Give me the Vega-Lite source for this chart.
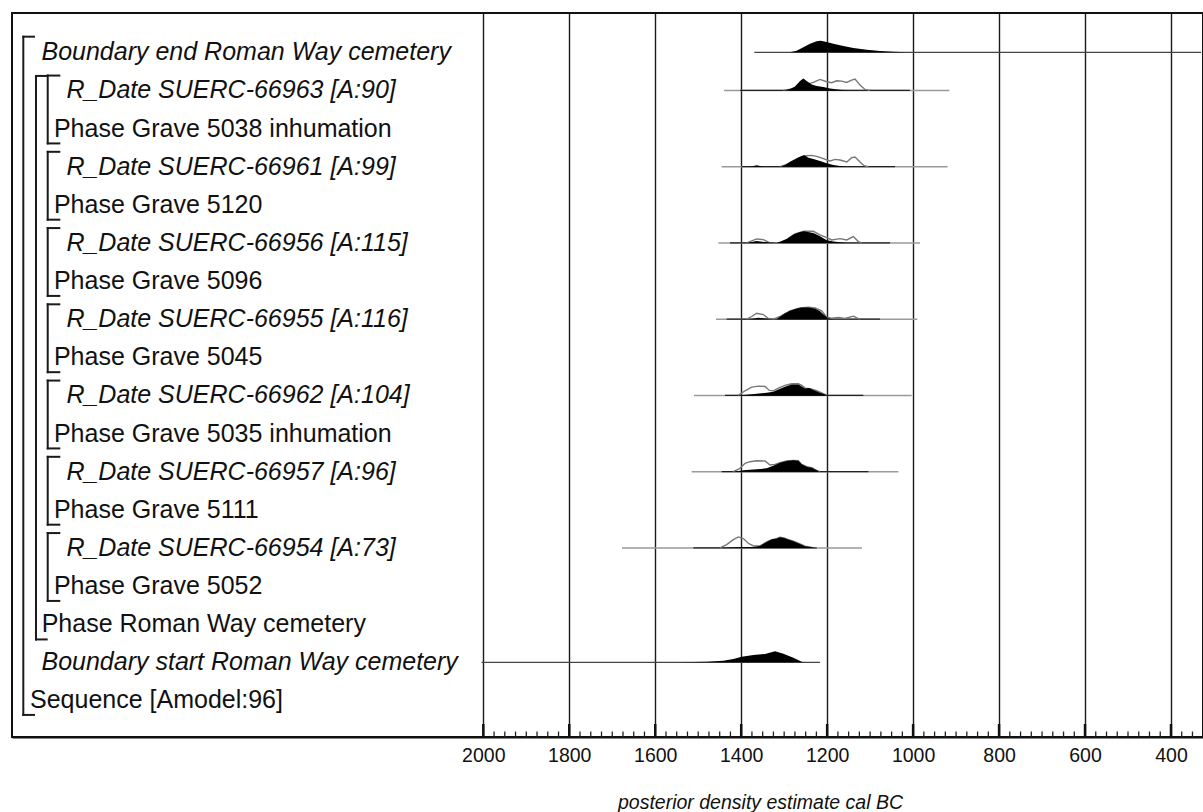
{
  "$schema": "https://vega.github.io/schema/vega-lite/v6.json",
  "width": 1191,
  "height": 724,
  "autosize": {"type": "none"},
  "padding": {"left": 12, "top": 13, "right": 0, "bottom": 75},
  "background": "white",
  "config": {
    "view": {"stroke": "#111", "strokeWidth": 2},
    "font": "Liberation Sans",
    "axis": {"ticks": false},
    "axisX": {
      "ticks": false, "grid": true, "gridColor": "#1a1a1a", "gridWidth": 1.4, "gridOpacity": 1,
      "domain": true, "domainColor": "#111", "domainWidth": 2,
      "labelFont": "Liberation Sans", "labelFontSize": 19.5, "labelColor": "#111", "labelPadding": 9,
      "titleFont": "Liberation Sans", "titleFontSize": 19.5, "titleFontStyle": "italic", "titleFontWeight": "normal",
      "titleColor": "#111"
    }
  },
  "datasets": {
    "major": [{"yr": 2000}, {"yr": 1800}, {"yr": 1600}, {"yr": 1400}, {"yr": 1200}, {"yr": 1000}, {"yr": 800}, {"yr": 600}, {"yr": 400}],
    "minor": [
      {"yr": 1975}, {"yr": 1950}, {"yr": 1925}, {"yr": 1900}, {"yr": 1875}, {"yr": 1850}, {"yr": 1825},
      {"yr": 1775}, {"yr": 1750}, {"yr": 1725}, {"yr": 1700}, {"yr": 1675}, {"yr": 1650}, {"yr": 1625},
      {"yr": 1575}, {"yr": 1550}, {"yr": 1525}, {"yr": 1500}, {"yr": 1475}, {"yr": 1450}, {"yr": 1425},
      {"yr": 1375}, {"yr": 1350}, {"yr": 1325}, {"yr": 1300}, {"yr": 1275}, {"yr": 1250}, {"yr": 1225},
      {"yr": 1175}, {"yr": 1150}, {"yr": 1125}, {"yr": 1100}, {"yr": 1075}, {"yr": 1050}, {"yr": 1025},
      {"yr": 975}, {"yr": 950}, {"yr": 925}, {"yr": 900}, {"yr": 875}, {"yr": 850}, {"yr": 825},
      {"yr": 775}, {"yr": 750}, {"yr": 725}, {"yr": 700}, {"yr": 675}, {"yr": 650}, {"yr": 625},
      {"yr": 575}, {"yr": 550}, {"yr": 525}, {"yr": 500}, {"yr": 475}, {"yr": 450}, {"yr": 425},
      {"yr": 375}, {"yr": 350}
    ],
    "labels": [
      {"row": 0, "yr": 3028, "style": "italic", "text": "Boundary end Roman Way cemetery"},
      {"row": 1, "yr": 2970, "style": "italic", "text": "R_Date SUERC-66963 [A:90]"},
      {"row": 2, "yr": 2999, "style": "normal", "text": "Phase Grave 5038 inhumation"},
      {"row": 3, "yr": 2970, "style": "italic", "text": "R_Date SUERC-66961 [A:99]"},
      {"row": 4, "yr": 2999, "style": "normal", "text": "Phase Grave 5120"},
      {"row": 5, "yr": 2970, "style": "italic", "text": "R_Date SUERC-66956 [A:115]"},
      {"row": 6, "yr": 2999, "style": "normal", "text": "Phase Grave 5096"},
      {"row": 7, "yr": 2970, "style": "italic", "text": "R_Date SUERC-66955 [A:116]"},
      {"row": 8, "yr": 2999, "style": "normal", "text": "Phase Grave 5045"},
      {"row": 9, "yr": 2970, "style": "italic", "text": "R_Date SUERC-66962 [A:104]"},
      {"row": 10, "yr": 2999, "style": "normal", "text": "Phase Grave 5035 inhumation"},
      {"row": 11, "yr": 2970, "style": "italic", "text": "R_Date SUERC-66957 [A:96]"},
      {"row": 12, "yr": 2999, "style": "normal", "text": "Phase Grave 5111"},
      {"row": 13, "yr": 2970, "style": "italic", "text": "R_Date SUERC-66954 [A:73]"},
      {"row": 14, "yr": 2999, "style": "normal", "text": "Phase Grave 5052"},
      {"row": 15, "yr": 3027.5, "style": "normal", "text": "Phase Roman Way cemetery"},
      {"row": 16, "yr": 3028, "style": "italic", "text": "Boundary start Roman Way cemetery"},
      {"row": 17, "yr": 3054.7, "style": "normal", "text": "Sequence [Amodel:96]"}
    ],
    "brackets": [
      {"yr": 3070.3, "yr2": 3070.3, "row": -0.41, "row2": 17.38},
      {"yr": 3070.3, "yr2": 3045.4, "row": -0.41, "row2": -0.41},
      {"yr": 3070.3, "yr2": 3045.4, "row": 17.38, "row2": 17.38},
      {"yr": 3040.8, "yr2": 3040.8, "row": 0.62, "row2": 15.4},
      {"yr": 3040.8, "yr2": 3015.9, "row": 0.62, "row2": 0.62},
      {"yr": 3040.8, "yr2": 3015.9, "row": 15.4, "row2": 15.4},
      {"yr": 3013.5, "yr2": 3013.5, "row": 0.61, "row2": 2.39},
      {"yr": 3013.5, "yr2": 2986.5, "row": 0.61, "row2": 0.61},
      {"yr": 3013.5, "yr2": 2986.5, "row": 2.39, "row2": 2.39},
      {"yr": 3013.5, "yr2": 3013.5, "row": 2.61, "row2": 4.39},
      {"yr": 3013.5, "yr2": 2986.5, "row": 2.61, "row2": 2.61},
      {"yr": 3013.5, "yr2": 2986.5, "row": 4.39, "row2": 4.39},
      {"yr": 3013.5, "yr2": 3013.5, "row": 4.61, "row2": 6.39},
      {"yr": 3013.5, "yr2": 2986.5, "row": 4.61, "row2": 4.61},
      {"yr": 3013.5, "yr2": 2986.5, "row": 6.39, "row2": 6.39},
      {"yr": 3013.5, "yr2": 3013.5, "row": 6.61, "row2": 8.39},
      {"yr": 3013.5, "yr2": 2986.5, "row": 6.61, "row2": 6.61},
      {"yr": 3013.5, "yr2": 2986.5, "row": 8.39, "row2": 8.39},
      {"yr": 3013.5, "yr2": 3013.5, "row": 8.61, "row2": 10.39},
      {"yr": 3013.5, "yr2": 2986.5, "row": 8.61, "row2": 8.61},
      {"yr": 3013.5, "yr2": 2986.5, "row": 10.39, "row2": 10.39},
      {"yr": 3013.5, "yr2": 3013.5, "row": 10.61, "row2": 12.39},
      {"yr": 3013.5, "yr2": 2986.5, "row": 10.61, "row2": 10.61},
      {"yr": 3013.5, "yr2": 2986.5, "row": 12.39, "row2": 12.39},
      {"yr": 3013.5, "yr2": 3013.5, "row": 12.61, "row2": 14.39},
      {"yr": 3013.5, "yr2": 2986.5, "row": 12.61, "row2": 12.61},
      {"yr": 3013.5, "yr2": 2986.5, "row": 14.39, "row2": 14.39}
    ],
    "ranges": [
      {"row": 0, "kind": "boundary", "yr": 1369.5, "yr2": 330},
      {"row": 16, "kind": "boundary", "yr": 2004, "yr2": 1216.5},
      {"row": 1, "kind": "likelihood", "yr": 1440, "yr2": 915.6},
      {"row": 3, "kind": "likelihood", "yr": 1445.4, "yr2": 919.5},
      {"row": 5, "kind": "likelihood", "yr": 1453.1, "yr2": 983.9},
      {"row": 7, "kind": "likelihood", "yr": 1458.5, "yr2": 990.1},
      {"row": 9, "kind": "likelihood", "yr": 1509.7, "yr2": 1003.3},
      {"row": 11, "kind": "likelihood", "yr": 1515.2, "yr2": 1034.3},
      {"row": 13, "kind": "likelihood", "yr": 1677.3, "yr2": 1119.0},
      {"row": 1, "kind": "posterior", "yr": 1402.7, "yr2": 1007.4},
      {"row": 3, "kind": "posterior", "yr": 1398.8, "yr2": 1042.0},
      {"row": 5, "kind": "posterior", "yr": 1426.0, "yr2": 1053.7},
      {"row": 7, "kind": "posterior", "yr": 1433.7, "yr2": 1077.0},
      {"row": 9, "kind": "posterior", "yr": 1437.6, "yr2": 1115.7},
      {"row": 11, "kind": "posterior", "yr": 1445.4, "yr2": 1104.1},
      {"row": 13, "kind": "posterior", "yr": 1511.3, "yr2": 1224.4}
    ],
    "fills": [
      {"s": "r0", "row": 0, "yr": 1286.4, "top": 0},
      {"s": "r0", "row": 0, "yr": 1270.9, "top": -0.044},
      {"s": "r0", "row": 0, "yr": 1255.4, "top": -0.131},
      {"s": "r0", "row": 0, "yr": 1239.9, "top": -0.227},
      {"s": "r0", "row": 0, "yr": 1224.3, "top": -0.288},
      {"s": "r0", "row": 0, "yr": 1215.0, "top": -0.306},
      {"s": "r0", "row": 0, "yr": 1201.1, "top": -0.271},
      {"s": "r0", "row": 0, "yr": 1185.6, "top": -0.227},
      {"s": "r0", "row": 0, "yr": 1162.3, "top": -0.166},
      {"s": "r0", "row": 0, "yr": 1139.0, "top": -0.114},
      {"s": "r0", "row": 0, "yr": 1108.0, "top": -0.070},
      {"s": "r0", "row": 0, "yr": 1077.0, "top": -0.035},
      {"s": "r0", "row": 0, "yr": 1046.0, "top": -0.017},
      {"s": "r0", "row": 0, "yr": 1014.9, "top": -0.004},
      {"s": "r0", "row": 0, "yr": 983.9, "top": 0},

      {"s": "r1", "row": 1, "yr": 1301.9, "top": 1},
      {"s": "r1", "row": 1, "yr": 1286.4, "top": 0.965},
      {"s": "r1", "row": 1, "yr": 1274.8, "top": 0.895},
      {"s": "r1", "row": 1, "yr": 1263.1, "top": 0.755},
      {"s": "r1", "row": 1, "yr": 1255.4, "top": 0.685},
      {"s": "r1", "row": 1, "yr": 1247.6, "top": 0.755},
      {"s": "r1", "row": 1, "yr": 1236.0, "top": 0.843},
      {"s": "r1", "row": 1, "yr": 1224.3, "top": 0.886},
      {"s": "r1", "row": 1, "yr": 1208.8, "top": 0.913},
      {"s": "r1", "row": 1, "yr": 1193.3, "top": 0.948},
      {"s": "r1", "row": 1, "yr": 1170.1, "top": 0.983},
      {"s": "r1", "row": 1, "yr": 1146.8, "top": 1},

      {"s": "r3", "row": 3, "yr": 1379.4, "top": 3},
      {"s": "r3", "row": 3, "yr": 1363.9, "top": 2.965},
      {"s": "r3", "row": 3, "yr": 1348.4, "top": 3},
      {"s": "r3", "row": 3, "yr": 1309.6, "top": 3},
      {"s": "r3", "row": 3, "yr": 1298.0, "top": 2.956},
      {"s": "r3", "row": 3, "yr": 1286.4, "top": 2.869},
      {"s": "r3", "row": 3, "yr": 1270.8, "top": 2.781},
      {"s": "r3", "row": 3, "yr": 1253.8, "top": 2.694},
      {"s": "r3", "row": 3, "yr": 1243.7, "top": 2.764},
      {"s": "r3", "row": 3, "yr": 1232.1, "top": 2.799},
      {"s": "r3", "row": 3, "yr": 1216.5, "top": 2.851},
      {"s": "r3", "row": 3, "yr": 1201.0, "top": 2.913},
      {"s": "r3", "row": 3, "yr": 1185.5, "top": 2.956},
      {"s": "r3", "row": 3, "yr": 1170.0, "top": 2.983},
      {"s": "r3", "row": 3, "yr": 1154.5, "top": 3},

      {"s": "r5", "row": 5, "yr": 1387.2, "top": 5},
      {"s": "r5", "row": 5, "yr": 1363.9, "top": 4.948},
      {"s": "r5", "row": 5, "yr": 1340.6, "top": 4.983},
      {"s": "r5", "row": 5, "yr": 1317.4, "top": 5},
      {"s": "r5", "row": 5, "yr": 1294.1, "top": 4.895},
      {"s": "r5", "row": 5, "yr": 1278.6, "top": 4.781},
      {"s": "r5", "row": 5, "yr": 1263.1, "top": 4.712},
      {"s": "r5", "row": 5, "yr": 1253.8, "top": 4.694},
      {"s": "r5", "row": 5, "yr": 1232.1, "top": 4.738},
      {"s": "r5", "row": 5, "yr": 1216.5, "top": 4.825},
      {"s": "r5", "row": 5, "yr": 1201.0, "top": 4.930},
      {"s": "r5", "row": 5, "yr": 1185.5, "top": 4.965},
      {"s": "r5", "row": 5, "yr": 1170.0, "top": 4.983},
      {"s": "r5", "row": 5, "yr": 1154.5, "top": 5},

      {"s": "r7", "row": 7, "yr": 1379.4, "top": 7},
      {"s": "r7", "row": 7, "yr": 1360.0, "top": 6.965},
      {"s": "r7", "row": 7, "yr": 1340.6, "top": 6.991},
      {"s": "r7", "row": 7, "yr": 1317.4, "top": 7},
      {"s": "r7", "row": 7, "yr": 1301.9, "top": 6.869},
      {"s": "r7", "row": 7, "yr": 1286.4, "top": 6.781},
      {"s": "r7", "row": 7, "yr": 1270.8, "top": 6.720},
      {"s": "r7", "row": 7, "yr": 1259.2, "top": 6.694},
      {"s": "r7", "row": 7, "yr": 1243.7, "top": 6.694},
      {"s": "r7", "row": 7, "yr": 1228.2, "top": 6.720},
      {"s": "r7", "row": 7, "yr": 1216.5, "top": 6.790},
      {"s": "r7", "row": 7, "yr": 1204.9, "top": 6.913},
      {"s": "r7", "row": 7, "yr": 1197.2, "top": 6.983},
      {"s": "r7", "row": 7, "yr": 1185.5, "top": 7},

      {"s": "r9", "row": 9, "yr": 1406.6, "top": 9},
      {"s": "r9", "row": 9, "yr": 1387.2, "top": 8.983},
      {"s": "r9", "row": 9, "yr": 1363.9, "top": 8.956},
      {"s": "r9", "row": 9, "yr": 1340.6, "top": 8.930},
      {"s": "r9", "row": 9, "yr": 1325.1, "top": 8.904},
      {"s": "r9", "row": 9, "yr": 1313.5, "top": 8.843},
      {"s": "r9", "row": 9, "yr": 1298.0, "top": 8.773},
      {"s": "r9", "row": 9, "yr": 1282.5, "top": 8.712},
      {"s": "r9", "row": 9, "yr": 1267.0, "top": 8.712},
      {"s": "r9", "row": 9, "yr": 1259.2, "top": 8.764},
      {"s": "r9", "row": 9, "yr": 1251.4, "top": 8.816},
      {"s": "r9", "row": 9, "yr": 1241.4, "top": 8.808},
      {"s": "r9", "row": 9, "yr": 1232.1, "top": 8.860},
      {"s": "r9", "row": 9, "yr": 1216.5, "top": 8.930},
      {"s": "r9", "row": 9, "yr": 1201.0, "top": 8.991},
      {"s": "r9", "row": 9, "yr": 1193.3, "top": 9},

      {"s": "r11", "row": 11, "yr": 1418.3, "top": 11},
      {"s": "r11", "row": 11, "yr": 1395.0, "top": 10.965},
      {"s": "r11", "row": 11, "yr": 1364.0, "top": 10.939},
      {"s": "r11", "row": 11, "yr": 1340.7, "top": 10.913},
      {"s": "r11", "row": 11, "yr": 1325.2, "top": 10.843},
      {"s": "r11", "row": 11, "yr": 1309.7, "top": 10.764},
      {"s": "r11", "row": 11, "yr": 1294.2, "top": 10.720},
      {"s": "r11", "row": 11, "yr": 1278.7, "top": 10.703},
      {"s": "r11", "row": 11, "yr": 1267.0, "top": 10.712},
      {"s": "r11", "row": 11, "yr": 1259.3, "top": 10.808},
      {"s": "r11", "row": 11, "yr": 1247.6, "top": 10.869},
      {"s": "r11", "row": 11, "yr": 1236.0, "top": 10.895},
      {"s": "r11", "row": 11, "yr": 1224.4, "top": 10.965},
      {"s": "r11", "row": 11, "yr": 1216.6, "top": 11},

      {"s": "r13", "row": 13, "yr": 1449.3, "top": 13},
      {"s": "r13", "row": 13, "yr": 1410.5, "top": 12.983},
      {"s": "r13", "row": 13, "yr": 1371.7, "top": 12.974},
      {"s": "r13", "row": 13, "yr": 1356.2, "top": 12.948},
      {"s": "r13", "row": 13, "yr": 1340.7, "top": 12.843},
      {"s": "r13", "row": 13, "yr": 1329.1, "top": 12.781},
      {"s": "r13", "row": 13, "yr": 1317.4, "top": 12.755},
      {"s": "r13", "row": 13, "yr": 1309.7, "top": 12.720},
      {"s": "r13", "row": 13, "yr": 1300.4, "top": 12.738},
      {"s": "r13", "row": 13, "yr": 1290.3, "top": 12.781},
      {"s": "r13", "row": 13, "yr": 1278.7, "top": 12.825},
      {"s": "r13", "row": 13, "yr": 1263.2, "top": 12.895},
      {"s": "r13", "row": 13, "yr": 1251.5, "top": 12.956},
      {"s": "r13", "row": 13, "yr": 1232.1, "top": 12.991},
      {"s": "r13", "row": 13, "yr": 1224.4, "top": 13},

      {"s": "r16", "row": 16, "yr": 1542.3, "top": 16},
      {"s": "r16", "row": 16, "yr": 1480.2, "top": 15.983},
      {"s": "r16", "row": 16, "yr": 1441.4, "top": 15.956},
      {"s": "r16", "row": 16, "yr": 1418.2, "top": 15.913},
      {"s": "r16", "row": 16, "yr": 1398.8, "top": 15.851},
      {"s": "r16", "row": 16, "yr": 1371.6, "top": 15.808},
      {"s": "r16", "row": 16, "yr": 1344.5, "top": 15.781},
      {"s": "r16", "row": 16, "yr": 1321.2, "top": 15.712},
      {"s": "r16", "row": 16, "yr": 1301.8, "top": 15.773},
      {"s": "r16", "row": 16, "yr": 1278.6, "top": 15.878},
      {"s": "r16", "row": 16, "yr": 1259.2, "top": 15.983},
      {"s": "r16", "row": 16, "yr": 1251.4, "top": 16}
    ],
    "outlines": [
      {"s": "r1", "yr": 1301.9, "top": 1},
      {"s": "r1", "yr": 1278.6, "top": 0.956},
      {"s": "r1", "yr": 1263.1, "top": 0.895},
      {"s": "r1", "yr": 1247.6, "top": 0.843},
      {"s": "r1", "yr": 1232.1, "top": 0.790},
      {"s": "r1", "yr": 1216.6, "top": 0.712},
      {"s": "r1", "yr": 1201.1, "top": 0.773},
      {"s": "r1", "yr": 1189.4, "top": 0.799},
      {"s": "r1", "yr": 1177.8, "top": 0.747},
      {"s": "r1", "yr": 1166.2, "top": 0.755},
      {"s": "r1", "yr": 1154.5, "top": 0.790},
      {"s": "r1", "yr": 1142.9, "top": 0.729},
      {"s": "r1", "yr": 1135.1, "top": 0.703},
      {"s": "r1", "yr": 1123.5, "top": 0.860},
      {"s": "r1", "yr": 1111.9, "top": 0.974},
      {"s": "r1", "yr": 1100.2, "top": 1},

      {"s": "r3", "yr": 1309.6, "top": 3},
      {"s": "r3", "yr": 1286.4, "top": 2.913},
      {"s": "r3", "yr": 1263.1, "top": 2.755},
      {"s": "r3", "yr": 1247.6, "top": 2.712},
      {"s": "r3", "yr": 1236.0, "top": 2.703},
      {"s": "r3", "yr": 1224.3, "top": 2.729},
      {"s": "r3", "yr": 1208.8, "top": 2.790},
      {"s": "r3", "yr": 1193.3, "top": 2.851},
      {"s": "r3", "yr": 1181.6, "top": 2.808},
      {"s": "r3", "yr": 1170.0, "top": 2.825},
      {"s": "r3", "yr": 1154.5, "top": 2.878},
      {"s": "r3", "yr": 1142.9, "top": 2.764},
      {"s": "r3", "yr": 1135.1, "top": 2.747},
      {"s": "r3", "yr": 1123.5, "top": 2.878},
      {"s": "r3", "yr": 1114.2, "top": 2.974},
      {"s": "r3", "yr": 1104.1, "top": 3},

      {"s": "r5", "yr": 1387.2, "top": 5},
      {"s": "r5", "yr": 1363.9, "top": 4.895},
      {"s": "r5", "yr": 1348.4, "top": 4.913},
      {"s": "r5", "yr": 1332.9, "top": 5},
      {"s": "r5", "yr": 1309.6, "top": 5},
      {"s": "r5", "yr": 1294.1, "top": 4.913},
      {"s": "r5", "yr": 1274.7, "top": 4.764},
      {"s": "r5", "yr": 1253.8, "top": 4.694},
      {"s": "r5", "yr": 1232.1, "top": 4.694},
      {"s": "r5", "yr": 1216.5, "top": 4.790},
      {"s": "r5", "yr": 1201.0, "top": 4.860},
      {"s": "r5", "yr": 1189.4, "top": 4.921},
      {"s": "r5", "yr": 1170.0, "top": 4.886},
      {"s": "r5", "yr": 1154.5, "top": 4.921},
      {"s": "r5", "yr": 1139.0, "top": 4.834},
      {"s": "r5", "yr": 1127.4, "top": 4.965},
      {"s": "r5", "yr": 1119.6, "top": 5},

      {"s": "r7", "yr": 1387.2, "top": 7},
      {"s": "r7", "yr": 1375.5, "top": 6.930},
      {"s": "r7", "yr": 1363.9, "top": 6.843},
      {"s": "r7", "yr": 1348.4, "top": 6.878},
      {"s": "r7", "yr": 1336.8, "top": 6.983},
      {"s": "r7", "yr": 1325.1, "top": 7},
      {"s": "r7", "yr": 1309.6, "top": 6.930},
      {"s": "r7", "yr": 1286.4, "top": 6.781},
      {"s": "r7", "yr": 1263.1, "top": 6.703},
      {"s": "r7", "yr": 1243.7, "top": 6.685},
      {"s": "r7", "yr": 1228.2, "top": 6.703},
      {"s": "r7", "yr": 1212.7, "top": 6.781},
      {"s": "r7", "yr": 1201.0, "top": 6.948},
      {"s": "r7", "yr": 1189.4, "top": 6.974},
      {"s": "r7", "yr": 1173.9, "top": 6.956},
      {"s": "r7", "yr": 1158.4, "top": 6.983},
      {"s": "r7", "yr": 1139.0, "top": 6.921},
      {"s": "r7", "yr": 1129.6, "top": 6.974},
      {"s": "r7", "yr": 1123.5, "top": 7},

      {"s": "r9", "yr": 1406.6, "top": 9},
      {"s": "r9", "yr": 1391.1, "top": 8.878},
      {"s": "r9", "yr": 1375.5, "top": 8.781},
      {"s": "r9", "yr": 1360.0, "top": 8.755},
      {"s": "r9", "yr": 1344.5, "top": 8.764},
      {"s": "r9", "yr": 1334.4, "top": 8.869},
      {"s": "r9", "yr": 1325.1, "top": 8.878},
      {"s": "r9", "yr": 1313.5, "top": 8.808},
      {"s": "r9", "yr": 1298.0, "top": 8.738},
      {"s": "r9", "yr": 1282.5, "top": 8.694},
      {"s": "r9", "yr": 1267.0, "top": 8.694},
      {"s": "r9", "yr": 1259.2, "top": 8.738},
      {"s": "r9", "yr": 1251.4, "top": 8.808},
      {"s": "r9", "yr": 1239.8, "top": 8.825},
      {"s": "r9", "yr": 1224.3, "top": 8.878},
      {"s": "r9", "yr": 1212.7, "top": 8.930},
      {"s": "r9", "yr": 1201.0, "top": 9},

      {"s": "r11", "yr": 1418.3, "top": 11},
      {"s": "r11", "yr": 1402.8, "top": 10.913},
      {"s": "r11", "yr": 1391.1, "top": 10.781},
      {"s": "r11", "yr": 1379.5, "top": 10.738},
      {"s": "r11", "yr": 1364.0, "top": 10.712},
      {"s": "r11", "yr": 1344.6, "top": 10.720},
      {"s": "r11", "yr": 1332.9, "top": 10.825},
      {"s": "r11", "yr": 1321.3, "top": 10.808},
      {"s": "r11", "yr": 1309.7, "top": 10.764},
      {"s": "r11", "yr": 1294.2, "top": 10.720},
      {"s": "r11", "yr": 1278.7, "top": 10.703},
      {"s": "r11", "yr": 1267.0, "top": 10.712},
      {"s": "r11", "yr": 1259.3, "top": 10.808},
      {"s": "r11", "yr": 1247.6, "top": 10.869},
      {"s": "r11", "yr": 1236.0, "top": 10.895},
      {"s": "r11", "yr": 1224.4, "top": 10.965},
      {"s": "r11", "yr": 1216.6, "top": 11},

      {"s": "r13", "yr": 1449.3, "top": 13},
      {"s": "r13", "yr": 1433.8, "top": 12.913},
      {"s": "r13", "yr": 1418.3, "top": 12.781},
      {"s": "r13", "yr": 1406.6, "top": 12.712},
      {"s": "r13", "yr": 1395.0, "top": 12.755},
      {"s": "r13", "yr": 1383.4, "top": 12.878},
      {"s": "r13", "yr": 1371.7, "top": 12.948},
      {"s": "r13", "yr": 1356.2, "top": 12.948},
      {"s": "r13", "yr": 1340.7, "top": 12.843},
      {"s": "r13", "yr": 1329.1, "top": 12.781},
      {"s": "r13", "yr": 1317.4, "top": 12.755},
      {"s": "r13", "yr": 1309.7, "top": 12.720},
      {"s": "r13", "yr": 1300.4, "top": 12.738},
      {"s": "r13", "yr": 1290.3, "top": 12.781},
      {"s": "r13", "yr": 1278.7, "top": 12.825},
      {"s": "r13", "yr": 1263.2, "top": 12.895},
      {"s": "r13", "yr": 1251.5, "top": 12.956},
      {"s": "r13", "yr": 1232.1, "top": 12.991},
      {"s": "r13", "yr": 1224.4, "top": 13}
    ]
  },
  "layer": [
    {
      "data": {"name": "major"},
      "mark": {"type": "rule", "color": "#111", "strokeWidth": 2.5},
      "encoding": {
        "x": {
          "field": "yr", "type": "quantitative",
          "scale": {"domain": [325.5, 3096.6], "reverse": true, "nice": false, "zero": false},
          "axis": {
            "values": [2000, 1800, 1600, 1400, 1200, 1000, 800, 600, 400],
            "format": "d",
            "ticks": false,
            "title": "posterior density estimate cal BC",
            "titleX": 748, "titleY": 71, "titleBaseline": "alphabetic", "titleAlign": "center"
          }
        },
        "y": {"datum": 17.618, "type": "quantitative", "scale": {"domain": [-1.031, 17.959], "reverse": true, "nice": false, "zero": false}, "axis": null},
        "y2": {"datum": 17.959}
      }
    },
    {
      "data": {"name": "minor"},
      "mark": {"type": "rule", "color": "#222", "strokeWidth": 1.3},
      "encoding": {
        "x": {"field": "yr", "type": "quantitative"},
        "y": {"datum": 17.815, "type": "quantitative", "axis": null},
        "y2": {"datum": 17.959}
      }
    },
    {
      "data": {"name": "brackets"},
      "mark": {"type": "rule", "color": "#1a1a1a", "strokeWidth": 2, "strokeCap": "square"},
      "encoding": {
        "x": {"field": "yr", "type": "quantitative"},
        "x2": {"field": "yr2"},
        "y": {"field": "row", "type": "quantitative", "axis": null},
        "y2": {"field": "row2"}
      }
    },
    {
      "data": {"name": "ranges"},
      "transform": [{"filter": "datum.kind === 'boundary'"}],
      "mark": {"type": "rule", "color": "#444", "strokeWidth": 1.2},
      "encoding": {
        "x": {"field": "yr", "type": "quantitative"},
        "x2": {"field": "yr2"},
        "y": {"field": "row", "type": "quantitative", "axis": null}
      }
    },
    {
      "data": {"name": "ranges"},
      "transform": [{"filter": "datum.kind === 'likelihood'"}],
      "mark": {"type": "rule", "color": "#9a9a9a", "strokeWidth": 1.6},
      "encoding": {
        "x": {"field": "yr", "type": "quantitative"},
        "x2": {"field": "yr2"},
        "y": {"field": "row", "type": "quantitative", "axis": null}
      }
    },
    {
      "data": {"name": "ranges"},
      "transform": [{"filter": "datum.kind === 'posterior'"}],
      "mark": {"type": "rule", "color": "#222", "strokeWidth": 1.3},
      "encoding": {
        "x": {"field": "yr", "type": "quantitative"},
        "x2": {"field": "yr2"},
        "y": {"field": "row", "type": "quantitative", "axis": null}
      }
    },
    {
      "data": {"name": "outlines"},
      "mark": {"type": "line", "color": "#777", "strokeWidth": 1.4, "interpolate": "linear"},
      "encoding": {
        "x": {"field": "yr", "type": "quantitative"},
        "y": {"field": "top", "type": "quantitative", "axis": null},
        "detail": {"field": "s", "type": "nominal"}
      }
    },
    {
      "data": {"name": "fills"},
      "mark": {"type": "area", "color": "#000", "opacity": 1},
      "encoding": {
        "x": {"field": "yr", "type": "quantitative"},
        "y": {"field": "top", "type": "quantitative", "axis": null},
        "y2": {"field": "row"},
        "detail": {"field": "s", "type": "nominal"}
      }
    },
    {
      "data": {"name": "labels"},
      "transform": [{"filter": "datum.style === 'italic'"}],
      "mark": {"type": "text", "align": "left", "baseline": "middle", "font": "Liberation Sans", "fontSize": 25, "fontStyle": "italic", "color": "#111"},
      "encoding": {
        "x": {"field": "yr", "type": "quantitative"},
        "y": {"field": "row", "type": "quantitative", "axis": null},
        "text": {"field": "text", "type": "nominal"}
      }
    },
    {
      "data": {"name": "labels"},
      "transform": [{"filter": "datum.style === 'normal'"}],
      "mark": {"type": "text", "align": "left", "baseline": "middle", "font": "Liberation Sans", "fontSize": 25, "color": "#111"},
      "encoding": {
        "x": {"field": "yr", "type": "quantitative"},
        "y": {"field": "row", "type": "quantitative", "axis": null},
        "text": {"field": "text", "type": "nominal"}
      }
    }
  ]
}
